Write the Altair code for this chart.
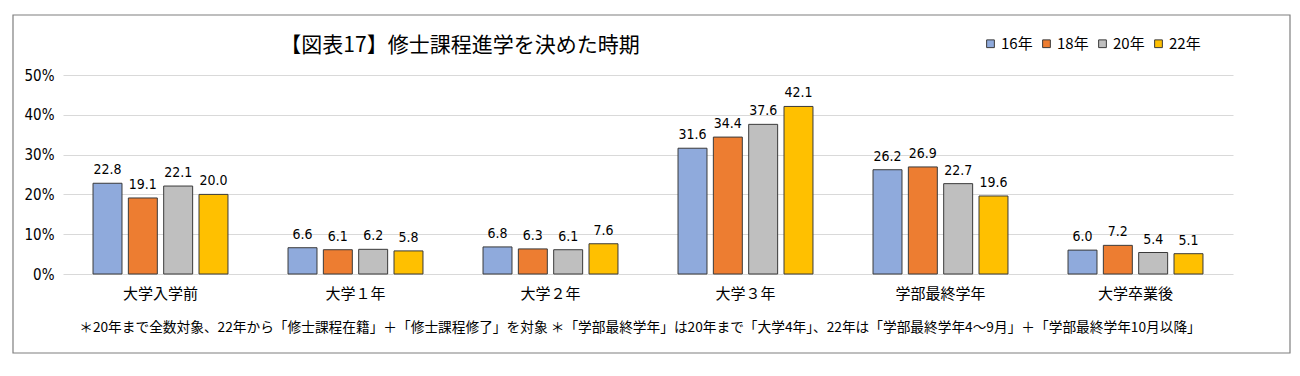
import altair as alt
import pandas as pd

categories = ["大学入学前", "大学１年", "大学２年", "大学３年", "学部最終学年", "大学卒業後"]
years = ["16年", "18年", "20年", "22年"]
v16 = [22.8, 6.6, 6.8, 31.6, 26.2, 6.0]
v18 = [19.1, 6.1, 6.3, 34.4, 26.9, 7.2]
v20 = [22.1, 6.2, 6.1, 37.6, 22.7, 5.4]
v22 = [20.0, 5.8, 7.6, 42.1, 19.6, 5.1]
colors = ["#8faadc", "#ed7d31", "#bfbfbf", "#ffc000"]
title_text = "【図表17】修士課程進学を決めた時期"
note_text = "＊20年まで全数対象、22年から「修士課程在籍」＋「修士課程修了」を対象 ＊「学部最終学年」は20年まで「大学4年」、22年は「学部最終学年4～9月」＋「学部最終学年10月以降」"
y_ticks = [0, 10, 20, 30, 40, 50]

rows = []
for y, vals in zip(years, [v16, v18, v20, v22]):
    for c, v in zip(categories, vals):
        rows.append({"cat": c, "year": y, "val": v})
df = pd.DataFrame(rows)

FONT = "Noto Sans CJK JP"
W, H = 1170, 199

x_enc = alt.X("cat:N", sort=categories, scale=alt.Scale(paddingInner=0, paddingOuter=0),
              axis=alt.Axis(title=None, labelFontSize=15, labelFont=FONT, labelColor="#000",
                            ticks=False, domain=False, grid=False, labelPadding=12, labelAngle=0))
xo_enc = alt.XOffset("year:N", sort=years, scale=alt.Scale(paddingInner=0.18, paddingOuter=0.85))
y_enc = alt.Y("val:Q", scale=alt.Scale(domain=[0, 50], nice=False),
              axis=alt.Axis(title=None, values=y_ticks, labelExpr="datum.value + '%'",
                            labelFontSize=15, labelFont="DejaVu Sans Condensed", labelColor="#000",
                            labelOverlap=False, ticks=False, domain=False, labelPadding=9,
                            grid=True, gridColor="#d9d9d9", gridWidth=1.2))

base = alt.Chart(df)

bars = base.mark_bar(stroke="#3a3a3a", strokeWidth=1).encode(
    x=x_enc, xOffset=xo_enc, y=y_enc,
    color=alt.Color("year:N", sort=years, scale=alt.Scale(domain=years, range=colors),
                    legend=alt.Legend(title=None, orient="none", direction="horizontal",
                                      legendX=920, legendY=-39, symbolType="square",
                                      symbolSize=60, symbolStrokeColor="#3a3a3a",
                                      symbolStrokeWidth=1, labelFontSize=15, labelFont=FONT,
                                      labelColor="#000", columnPadding=6, labelOffset=3)),
)

labels = base.mark_text(baseline="bottom", dy=-6, fontSize=14, font="DejaVu Sans Condensed",
                        color="#000").encode(
    x=x_enc, xOffset=xo_enc, y=y_enc, text=alt.Text("val:Q", format=".1f"))

border = alt.Chart(pd.DataFrame({"a": [0]})).mark_rect(
    fill=None, stroke="#7f7f7f", strokeWidth=1.2).encode(
    x=alt.value(-50), x2=alt.value(1227), y=alt.value(-60), y2=alt.value(278))

title = alt.Chart(pd.DataFrame({"t": [title_text]})).mark_text(
    fontSize=21, font=FONT, color="#000", align="center", baseline="middle").encode(
    x=alt.value(397), y=alt.value(-29), text="t:N")

note = alt.Chart(pd.DataFrame({"t": [note_text]})).mark_text(
    fontSize=13.7, font=FONT, color="#000", align="center", baseline="middle").encode(
    x=alt.value(577), y=alt.value(54 + 199), text="t:N")

chart = alt.layer(bars, labels, border, title, note).properties(
    width=W, height=H, background="white",
    autosize=alt.AutoSizeParams(type="none"),
    padding={"left": 55, "top": 67, "right": 59, "bottom": 94},
).configure_view(stroke=None)

chart.save("out.html", embed_options={"renderer": "svg", "actions": False})
